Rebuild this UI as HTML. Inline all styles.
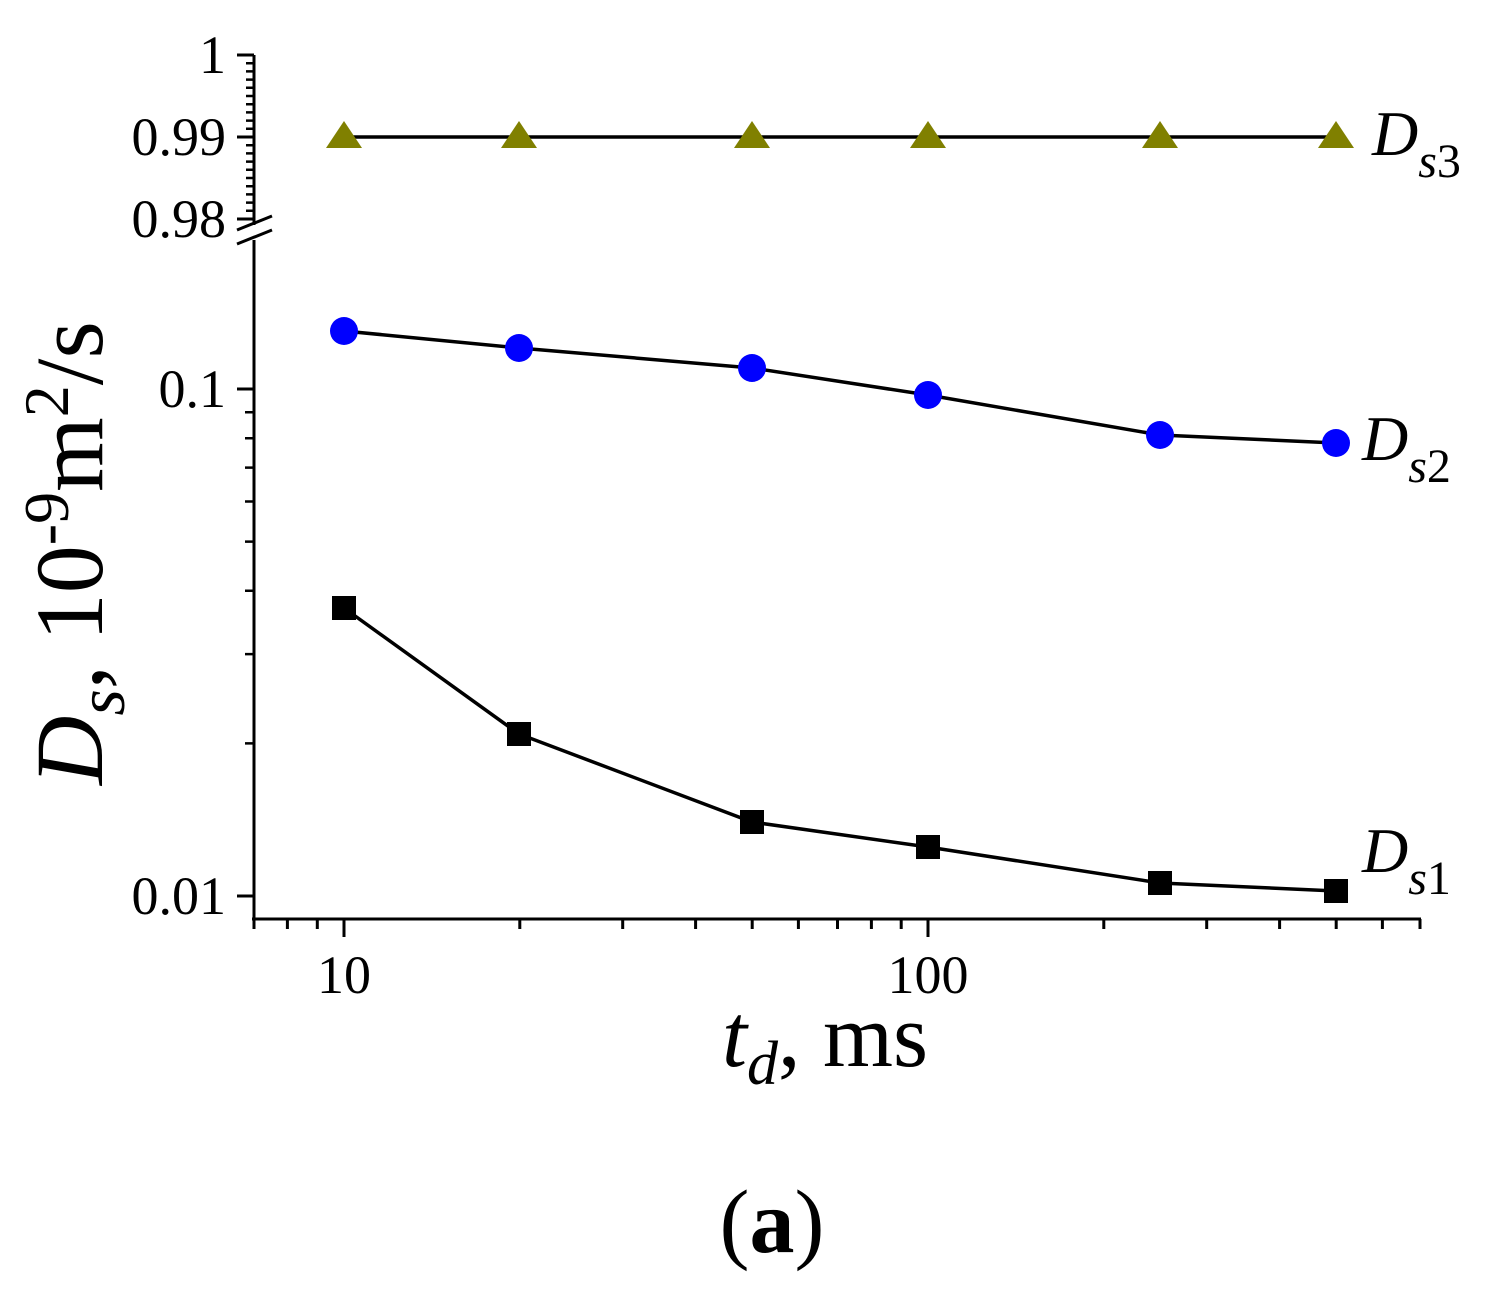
<!DOCTYPE html>
<html><head><meta charset="utf-8"><style>
html,body{margin:0;padding:0;background:#fff}
svg{display:block}
text{font-family:"Liberation Serif",serif;fill:#000}
</style></head><body>
<svg width="1512" height="1292" viewBox="0 0 1512 1292" xmlns="http://www.w3.org/2000/svg">
<g stroke="#000" stroke-width="3" fill="none">
<line x1="254" y1="55" x2="254" y2="225"/>
<line x1="237" y1="55" x2="254" y2="55"/>
<line x1="237" y1="137" x2="254" y2="137"/>
<line x1="237" y1="219" x2="254" y2="219"/>
<path stroke-width="2.5" d="M246 63.2h8M246 71.4h8M246 79.6h8M246 87.8h8M246 96h8M246 104.2h8M246 112.4h8M246 120.6h8M246 128.8h8M246 145.2h8M246 153.4h8M246 161.6h8M246 169.8h8M246 178h8M246 186.2h8M246 194.4h8M246 202.6h8M246 210.8h8"/>
<line x1="237" y1="230" x2="272" y2="216"/>
<line x1="237" y1="244" x2="272" y2="230"/>
<line x1="254" y1="240" x2="254" y2="920"/>
<line x1="237" y1="389" x2="254" y2="389"/>
<line x1="237" y1="896" x2="254" y2="896"/>
<path stroke-width="2.5" d="M245 743.4h9M245 654.1h9M245 590.8h9M245 541.6h9M245 501.5h9M245 467.6h9M245 438.2h9M245 412.2h9"/>
<line x1="252" y1="919" x2="1421" y2="919"/>
<line x1="344" y1="919" x2="344" y2="937"/>
<line x1="928" y1="919" x2="928" y2="937"/>
<path d="M254 919v10M287.4 919v10M317.3 919v10M519.8 919v10M622.7 919v10M695.6 919v10M752.2 919v10M798.4 919v10M837.5 919v10M871.4 919v10M901.2 919v10M1103.8 919v10M1206.7 919v10M1279.6 919v10M1336.2 919v10M1382.4 919v10M1420 919v10"/>
<g stroke-width="3.5">
<polyline points="344,137 519,137 752,137 928,137 1160,137 1336,137"/>
<polyline points="344,331 519,348 752,368 928,395 1160,435 1336,443"/>
<polyline points="344,608 519,734 752,822 928,847 1160,883 1336,891"/>
</g>
</g>
<g fill="#808000">
<polygon points="344,121 362,148 326,148"/>
<polygon points="519,121 537,148 501,148"/>
<polygon points="752,121 770,148 734,148"/>
<polygon points="928,121 946,148 910,148"/>
<polygon points="1160,121 1178,148 1142,148"/>
<polygon points="1336,121 1354,148 1318,148"/>
</g>
<g fill="#0000ff">
<circle cx="344" cy="331" r="14"/><circle cx="519" cy="348" r="14"/><circle cx="752" cy="368" r="14"/>
<circle cx="928" cy="395" r="14"/><circle cx="1160" cy="435" r="14"/><circle cx="1336" cy="443" r="14"/>
</g>
<g fill="#000">
<rect x="332" y="596" width="24" height="24"/><rect x="507" y="722" width="24" height="24"/>
<rect x="740" y="810" width="24" height="24"/><rect x="916" y="835" width="24" height="24"/>
<rect x="1148" y="871" width="24" height="24"/><rect x="1324" y="879" width="24" height="24"/>
</g>
<g font-size="54" text-anchor="end">
<text x="226" y="73">1</text>
<text x="226" y="155">0.99</text>
<text x="226" y="237">0.98</text>
<text x="226" y="407">0.1</text>
<text x="226" y="914">0.01</text>
</g>
<g font-size="54" text-anchor="middle">
<text x="344" y="993">10</text>
<text x="928" y="993">100</text>
</g>
<text x="1372" y="155" font-size="64" font-style="italic">D<tspan font-size="48" dy="22">s</tspan><tspan font-style="normal" font-size="48">3</tspan></text>
<text x="1362" y="460" font-size="64" font-style="italic">D<tspan font-size="48" dy="22">s</tspan><tspan font-style="normal" font-size="48">2</tspan></text>
<text x="1362" y="872" font-size="64" font-style="italic">D<tspan font-size="48" dy="22">s</tspan><tspan font-style="normal" font-size="48">1</tspan></text>
<text x="722" y="1066" font-size="90"><tspan font-style="italic">t</tspan><tspan font-style="italic" font-size="62" dy="18">d</tspan><tspan dy="-18">, ms</tspan></text>
<text transform="translate(102,785) rotate(-90)" font-size="96"><tspan font-style="italic">D</tspan><tspan font-style="italic" font-size="68" dy="22">s</tspan><tspan dy="-22">, 10</tspan><tspan font-size="64" dy="-34">-9</tspan><tspan dy="34">m</tspan><tspan font-size="64" dy="-34">2</tspan><tspan dy="34">/s</tspan></text>
<text x="772" y="1252" font-size="90" text-anchor="middle">(<tspan font-weight="bold">a</tspan>)</text>
</svg>
</body></html>
